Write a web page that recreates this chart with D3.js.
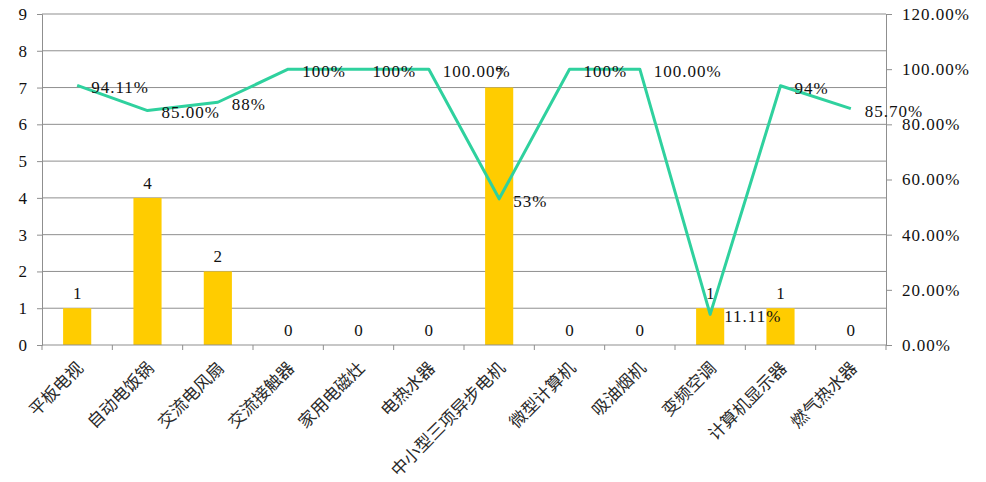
<!DOCTYPE html>
<html>
<head>
<meta charset="utf-8">
<script src="https://cdn.jsdelivr.net/npm/d3@7"></script>
<style>
  html, body { margin: 0; padding: 0; background: #fff; }
  svg { display: block; }
  .num { font-family: "Liberation Serif", "DejaVu Serif", serif; font-size: 17px; letter-spacing: 1px; fill: #111; }
  .cat { font-family: "Noto Sans CJK SC", sans-serif; font-size: 17px; fill: #2a2a2a; }
</style>
</head>
<body>
<svg id="chart" width="986" height="482"></svg>
<script>
const categories = ['平板电视','自动电饭锅','交流电风扇','交流接触器','家用电磁灶','电热水器','中小型三项异步电机','微型计算机','吸油烟机','变频空调','计算机显示器','燃气热水器'];
const counts = [1, 4, 2, 0, 0, 0, 7, 0, 0, 1, 1, 0];
const rates = [0.9411, 0.85, 0.88, 1, 1, 1, 0.53, 1, 1, 0.1111, 0.94, 0.857];
const rateLabels = ['94.11%','85.00%','88%','100%','100%','100.00%','53%','100%','100.00%','11.11%','94%','85.70%'];
const leftTicks = [0,1,2,3,4,5,6,7,8,9];
const rightTicks = [0,0.2,0.4,0.6,0.8,1.0,1.2];

const svg = d3.select('#chart');
const L = 42, R = 886, T = 14, B = 345;

const x = d3.scaleBand().domain(categories).range([L, R]).paddingInner(0).paddingOuter(0);
const yL = d3.scaleLinear().domain([0, 9]).range([B, T]);
const yR = d3.scaleLinear().domain([0, 1.2]).range([B, T]);
const grid = '#8f8f8f';

// gridlines
svg.append('g').selectAll('line').data(leftTicks.filter(d => d > 0)).join('line')
  .attr('x1', L).attr('x2', R).attr('y1', d => yL(d)).attr('y2', d => yL(d))
  .attr('stroke', grid).attr('stroke-width', 1);

// left axis
const gl = svg.append('g').attr('transform', `translate(${L},0)`)
  .call(d3.axisLeft(yL).tickValues(leftTicks).tickSize(5).tickPadding(9).tickFormat(d3.format('d')));
gl.select('.domain').attr('stroke', grid);
gl.selectAll('.tick line').attr('stroke', grid);
gl.selectAll('.tick text').attr('class', 'num').attr('fill', '#111');

// right axis
const gr = svg.append('g').attr('transform', `translate(${R},0)`)
  .call(d3.axisRight(yR).tickValues(rightTicks).tickSize(6).tickPadding(10).tickFormat(d3.format('.2%')));
gr.select('.domain').attr('stroke', grid);
gr.selectAll('.tick line').attr('stroke', grid);
gr.selectAll('.tick text').attr('class', 'num').attr('fill', '#111');

// bars
svg.append('g').selectAll('rect').data(categories).join('rect')
  .attr('x', (d) => x(d) + x.bandwidth() * 0.3)
  .attr('width', x.bandwidth() * 0.4)
  .attr('y', (d, i) => yL(counts[i]))
  .attr('height', (d, i) => yL(0) - yL(counts[i]))
  .attr('fill', '#FFCC00');

// bottom axis
const boundaries = categories.map(d => x(d)).concat([R]);
svg.append('line').attr('x1', L).attr('x2', R).attr('y1', B).attr('y2', B).attr('stroke', grid);
svg.append('g').selectAll('line').data(boundaries).join('line')
  .attr('x1', d => d).attr('x2', d => d).attr('y1', B).attr('y2', B + 5).attr('stroke', grid);

// category labels
svg.append('g').selectAll('text').data(categories).join('text')
  .attr('class', 'cat')
  .attr('text-anchor', 'end')
  .attr('dy', '0.35em')
  .attr('transform', d => `translate(${x(d) + x.bandwidth() / 2 + 3},365) rotate(-45)`)
  .text(d => d);

// bar labels
svg.append('g').selectAll('text').data(categories).join('text')
  .attr('class', 'num')
  .attr('text-anchor', 'middle')
  .attr('x', d => x(d) + x.bandwidth() / 2 + 0.5)
  .attr('y', (d, i) => yL(counts[i]) - 15)
  .attr('dy', '0.35em')
  .text((d, i) => counts[i]);

// line
const line = d3.line()
  .x((d, i) => x(categories[i]) + x.bandwidth() / 2)
  .y(d => yR(d));
svg.append('path').datum(rates)
  .attr('d', line)
  .attr('fill', 'none')
  .attr('stroke', '#2fd19e')
  .attr('stroke-width', 3)
  .attr('stroke-linejoin', 'round');

// line labels
svg.append('g').selectAll('text').data(rates).join('text')
  .attr('class', 'num')
  .attr('x', (d, i) => x(categories[i]) + x.bandwidth() / 2 + 14)
  .attr('y', d => yR(d) + 2)
  .attr('dy', '0.35em')
  .text((d, i) => rateLabels[i]);
</script>
</body>
</html>
